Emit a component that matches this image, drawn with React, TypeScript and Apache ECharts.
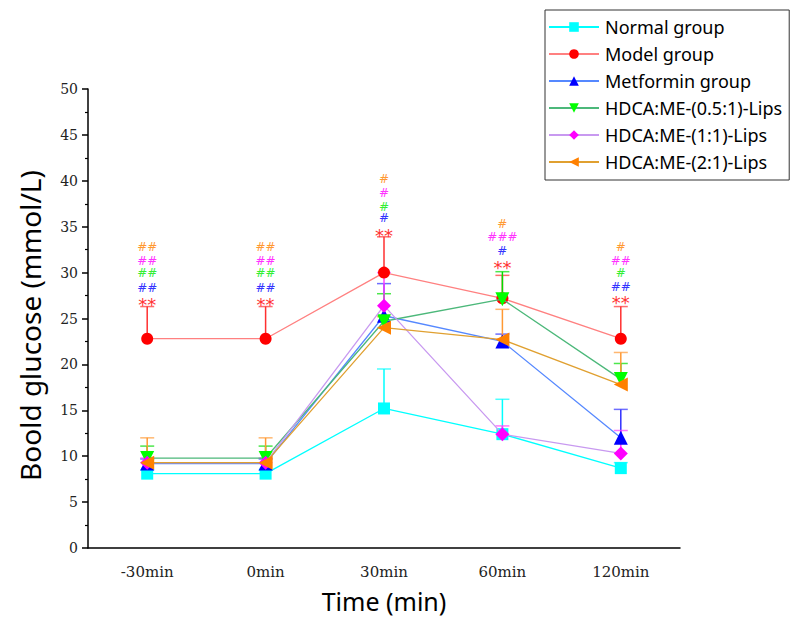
import React, { useEffect, useRef } from "react";
import * as echarts from "echarts";

const categories = ["-30min", "0min", "30min", "60min", "120min"];

const groupNames = [
  "Normal group",
  "Model group",
  "Metformin group",
  "HDCA:ME-(0.5:1)-Lips",
  "HDCA:ME-(1:1)-Lips",
  "HDCA:ME-(2:1)-Lips",
];

const normalMean = [8.1, 8.1, 15.2, 12.4, 8.7];
const normalErr = [0.4, 0.4, 4.3, 3.8, 0.6];
const modelMean = [22.8, 22.8, 30.0, 27.2, 22.8];
const modelErr = [3.5, 3.5, 3.9, 2.5, 3.5];
const metforminMean = [9.2, 9.2, 25.3, 22.5, 12.0];
const metforminErr = [0.5, 0.5, 3.5, 0.8, 3.1];
const hdca05Mean = [9.8, 9.8, 24.7, 27.1, 18.4];
const hdca05Err = [1.3, 1.3, 3.0, 3.0, 1.7];
const hdca11Mean = [9.3, 9.3, 26.4, 12.4, 10.3];
const hdca11Err = [0.5, 0.5, 3.6, 0.9, 2.5];
const hdca21Mean = [9.3, 9.3, 24.0, 22.7, 17.8];
const hdca21Err = [2.7, 2.7, 1.2, 3.3, 3.5];

// significance marks (text + y position in mmol/L) per time point
const annRedText = ["**", "**", "**", "**", "**"];
const annRedY = [27.1, 27.1, 34.6, 31.1, 27.3];
const annBlueText = ["##", "##", "#", "#", "##"];
const annBlueY = [28.3, 28.3, 35.9, 32.3, 28.4];
const annGreenText = ["##", "##", "#", "", "#"];
const annGreenY = [30.0, 30.0, 37.2, 0, 30.0];
const annMagentaText = ["##", "##", "#", "###", "##"];
const annMagentaY = [31.3, 31.3, 38.7, 33.9, 31.3];
const annOrangeText = ["##", "##", "#", "#", "#"];
const annOrangeY = [32.8, 32.8, 40.2, 35.3, 32.8];

const yTicks = { min: 0, max: 50, interval: 5 };

export default function App() {
  const ref = useRef<HTMLDivElement>(null);
  useEffect(() => {
    if (!ref.current) return;
    const chart = echarts.init(ref.current, undefined, { renderer: "svg" });

    const groups = [
      { name: groupNames[0], mean: normalMean, err: normalErr, line: "#00FFFF", mark: "#00FFFF", bar: "#00FFFF", symbol: "rect", size: 12, rot: 0 },
      { name: groupNames[1], mean: modelMean, err: modelErr, line: "#FF8080", mark: "#FF0000", bar: "#FF3030", symbol: "circle", size: 12, rot: 0 },
      { name: groupNames[2], mean: metforminMean, err: metforminErr, line: "#5588FF", mark: "#0000FF", bar: "#3030FF", symbol: "triangle", size: 14, rot: 0 },
      { name: groupNames[3], mean: hdca05Mean, err: hdca05Err, line: "#4CB87A", mark: "#00FF00", bar: "#00DD00", symbol: "triangle", size: 14, rot: 180 },
      { name: groupNames[4], mean: hdca11Mean, err: hdca11Err, line: "#C899F0", mark: "#FF00FF", bar: "#FF40FF", symbol: "diamond", size: 14, rot: 0 },
      { name: groupNames[5], mean: hdca21Mean, err: hdca21Err, line: "#E0A030", mark: "#FF8000", bar: "#FF9933", symbol: "triangle", size: 14, rot: 90 },
    ];

    const errSeries = groups.map((g) => ({
      type: "custom",
      silent: true,
      xAxisIndex: 0,
      yAxisIndex: 0,
      z: 1,
      data: g.mean.map((m, i) => [i, m, g.err[i]]),
      renderItem: (params: any, api: any) => {
        const x = api.value(0);
        const y = api.value(1);
        const e = api.value(2);
        const p0 = api.coord([x, y]);
        const p1 = api.coord([x, y + e]);
        return {
          type: "group",
          children: [
            { type: "line", shape: { x1: p0[0], y1: p0[1], x2: p1[0], y2: p1[1] }, style: { stroke: g.bar, lineWidth: 1.5 } },
            { type: "line", shape: { x1: p1[0] - 7, y1: p1[1], x2: p1[0] + 7, y2: p1[1] }, style: { stroke: g.bar, lineWidth: 1.5, opacity: 0.7 } },
          ],
        };
      },
    }));

    const lineSeries = groups.map((g, k) => ({
      type: "line",
      name: g.name,
      data: g.mean,
      symbol: g.symbol,
      symbolSize: g.size,
      symbolRotate: g.rot,
      showAllSymbol: true,
      z: 3 + k,
      lineStyle: { color: g.line, width: 1.3 },
      itemStyle: { color: g.mark },
      emphasis: { disabled: true },
    }));

    const anns = [
      { text: annRedText, y: annRedY, color: "#FF3333", font: "18px 'DejaVu Sans'", dy: 5 },
      { text: annBlueText, y: annBlueY, color: "#3333FF", font: "12px 'DejaVu Sans'", dy: 0 },
      { text: annGreenText, y: annGreenY, color: "#33EE33", font: "12px 'DejaVu Sans'", dy: 0 },
      { text: annMagentaText, y: annMagentaY, color: "#FF33FF", font: "12px 'DejaVu Sans'", dy: 0 },
      { text: annOrangeText, y: annOrangeY, color: "#FF9933", font: "12px 'DejaVu Sans'", dy: 0 },
    ];
    const annSeries = anns.map((a) => ({
      type: "custom",
      silent: true,
      z: 10,
      data: a.y.map((v, i) => [i, v, i]),
      renderItem: (params: any, api: any) => {
        const idx = api.value(2);
        const t = a.text[idx];
        if (!t) return null;
        const p = api.coord([api.value(0), api.value(1)]);
        return {
          type: "text",
          x: p[0],
          y: p[1] + a.dy,
          style: { text: t, fill: a.color, font: a.font, align: "center", verticalAlign: "middle" },
        };
      },
    }));

    chart.setOption({
      animation: false,
      backgroundColor: "#ffffff",
      grid: { left: 88, right: 115, top: 89, bottom: 69, containLabel: false },
      legend: {
        data: groupNames,
        orient: "vertical",
        left: 545,
        top: 10,
        padding: [7, 7, 8, 3],
        itemWidth: 50,
        itemHeight: 12,
        itemGap: 7,
        borderColor: "#333",
        borderWidth: 1,
        textStyle: { fontFamily: "Noto Sans", fontSize: 18, color: "#000", lineHeight: 20, padding: [0, 0, 0, 1] },
      },
      xAxis: [
        {
          type: "category",
          data: categories,
          boundaryGap: true,
          name: "Time (min)",
          nameLocation: "middle",
          nameGap: 40,
          nameTextStyle: { fontFamily: "Noto Sans", fontSize: 25, color: "#000" },
          axisLine: { lineStyle: { color: "#000", width: 1.5 } },
          axisTick: { alignWithLabel: true, length: 8, lineStyle: { color: "#000", width: 1.5 } },
          axisLabel: { fontFamily: "DejaVu Serif", fontSize: 15, color: "#222", margin: 16 },
          splitLine: { show: false },
        },
        {
          type: "category",
          data: categories,
          boundaryGap: true,
          position: "bottom",
          axisLine: { show: false },
          axisTick: { alignWithLabel: false, length: 5, lineStyle: { color: "#000", width: 1.5 } },
          axisLabel: { show: false },
          splitLine: { show: false },
        },
      ],
      yAxis: {
        type: "value",
        min: yTicks.min,
        max: yTicks.max,
        interval: yTicks.interval,
        name: "Boold glucose (mmol/L)",
        nameLocation: "middle",
        nameGap: 44,
        nameTextStyle: { fontFamily: "Noto Sans", fontSize: 28, color: "#000", padding: [0, 14, 0, 0] },
        axisLine: { show: true, lineStyle: { color: "#000", width: 1.5 } },
        axisTick: { show: true, length: 6, lineStyle: { color: "#000", width: 1.5 } },
        minorTick: { show: true, splitNumber: 2, length: 3, lineStyle: { color: "#000", width: 1.2 } },
        axisLabel: { fontFamily: "DejaVu Serif", fontSize: 14, color: "#222", margin: 10 },
        splitLine: { show: false },
      },
      series: [...errSeries, ...lineSeries, ...annSeries],
    });
    return () => chart.dispose();
  }, []);
  return <div ref={ref} style={{ width: 795, height: 618, position: "absolute", left: 0, top: 0 }} />;
}
